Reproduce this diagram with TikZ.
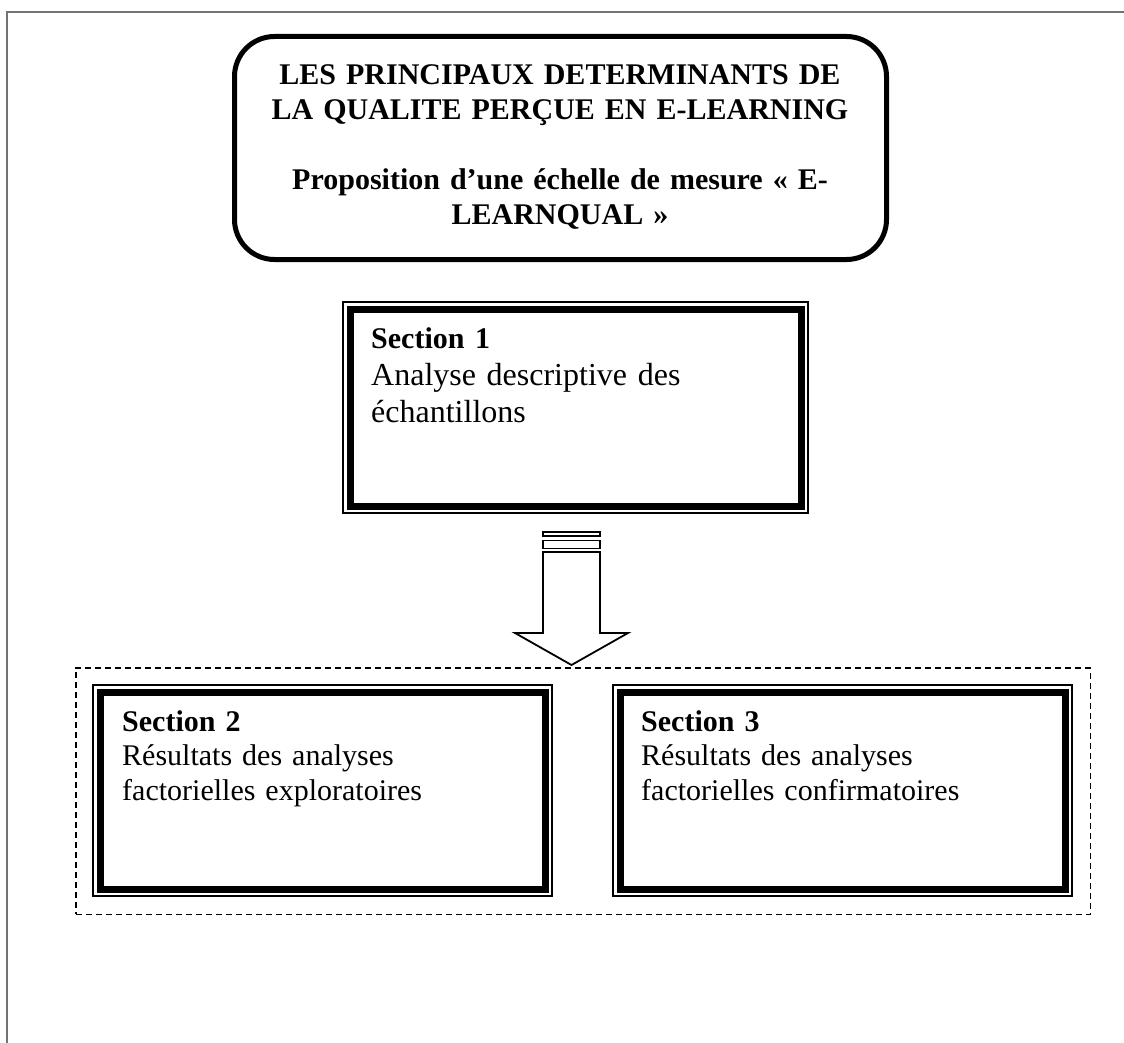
\documentclass[tikz,border=0pt]{standalone}
\usepackage{fontspec}
\setmainfont{Liberation Serif}
\begin{document}
\begin{tikzpicture}[x=1pt,y=-1pt,
  frameline/.style={draw=black!55,line width=1.2pt},
  titlebox/.style={draw,line width=5pt,rounded corners=40pt,inner sep=0pt,outer sep=0pt,anchor=north west},
  secbox/.style={draw,line width=2pt,inner sep=0pt,outer sep=0pt,anchor=north west,minimum height=211pt},
  thickin/.style={line width=7pt},
  grpbox/.style={draw,dash pattern=on 6pt off 4pt,line width=1.5pt,inner sep=0pt,outer sep=0pt,anchor=north west},
  sectext/.style={anchor=base west,inner sep=0pt,text width=420pt,align=left,font=\fontsize{30}{34.5}\selectfont},
  bigsectext/.style={sectext,font=\fontsize{32}{37}\selectfont},
  titletext/.style={anchor=base,inner sep=0pt,text width=640pt,align=center,font=\fontsize{30}{35}\selectfont\bfseries},
  blockarrow/.style={draw,line width=1.8pt,fill=white,line join=miter}
]
\useasboundingbox (0,0) rectangle (1124,1043);
\fill[white] (0,0) rectangle (1124,1043);
\draw[frameline] (7,1043) -- (7,12) -- (1124,12);

% title
\node[titlebox,minimum width=652pt,minimum height=223pt] (title) at (234.5,36.5) {};
\node[titletext] (titletxt) at (560,85) {LES PRINCIPAUX DETERMINANTS DE\\LA QUALITE PERÇUE EN E-LEARNING\\[35pt]Proposition d’une échelle de mesure « E-\\LEARNQUAL »};

% section 1
\node[secbox,minimum width=465pt] (s1) at (343,302) {};
\draw[thickin] ([shift={(7,7)}]s1.north west) rectangle ([shift={(-7,-7)}]s1.south east);
\node[bigsectext] (s1t) at (371,348) {{\bfseries\fontsize{30}{37}\selectfont Section 1}\\Analyse descriptive des\\échantillons};

% block arrow
\draw[blockarrow] (543,532) rectangle (600,536);
\draw[blockarrow] (543,540.5) rectangle (600,548.5);
\draw[blockarrow] (543,552) -- (600,552) -- (600,633) -- (628,633) -- (571.5,665) -- (515,633) -- (543,633) -- cycle;

% group
\node[grpbox,minimum width=1014.5pt,minimum height=246.5pt] (grp) at (75.75,667.75) {};

% section 2
\node[secbox,minimum width=459pt] (s2) at (93,685) {};
\draw[thickin] ([shift={(7,7)}]s2.north west) rectangle ([shift={(-7,-7)}]s2.south east);
\node[sectext] (s2t) at (122,731) {{\bfseries Section 2}\\Résultats des analyses\\factorielles exploratoires};

% section 3
\node[secbox,minimum width=459pt] (s3) at (613,685) {};
\draw[thickin] ([shift={(7,7)}]s3.north west) rectangle ([shift={(-7,-7)}]s3.south east);
\node[sectext] (s3t) at (641,731) {{\bfseries Section 3}\\Résultats des analyses\\factorielles confirmatoires};
\end{tikzpicture}
\end{document}
